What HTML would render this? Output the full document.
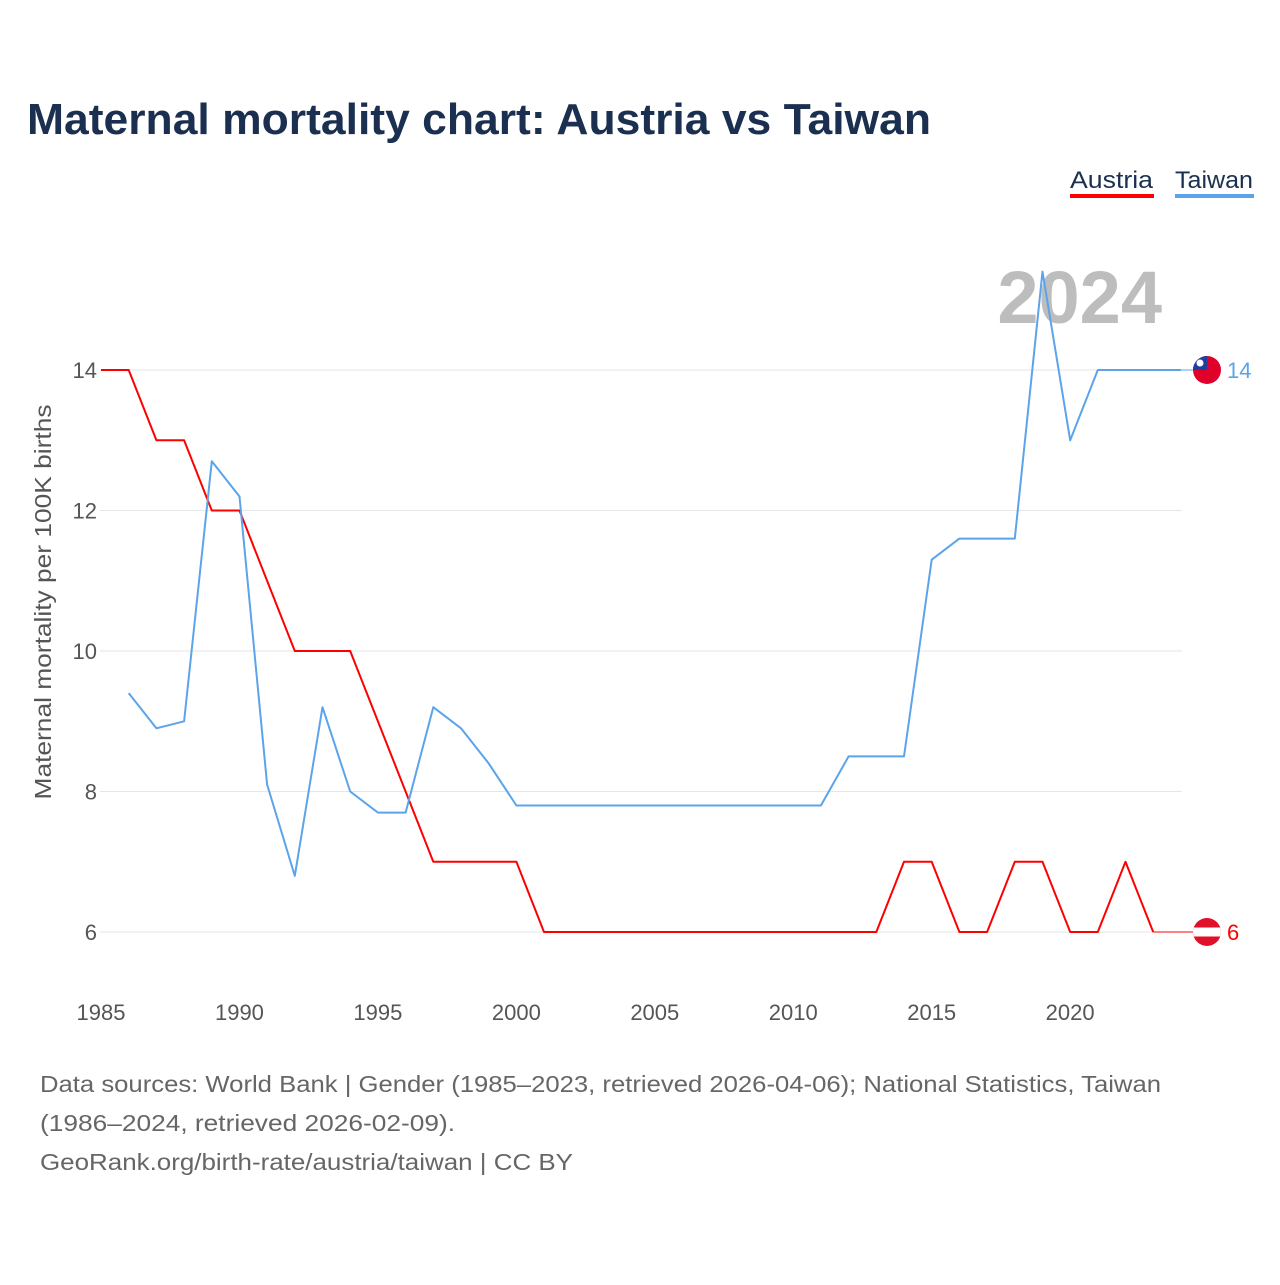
<!DOCTYPE html>
<html><head><meta charset="utf-8">
<style>
body{margin:0;background:#fff;font-family:"Liberation Sans",sans-serif;}
svg text{font-family:"Liberation Sans",sans-serif;}
</style></head>
<body>
<svg id="chart" width="1280" height="1280" xmlns="http://www.w3.org/2000/svg">
<text x="27" y="134" font-size="44" font-weight="bold" fill="#1b3050" textLength="904" lengthAdjust="spacingAndGlyphs">Maternal mortality chart: Austria vs Taiwan</text>
<g><text x="1070" y="188" font-size="24" fill="#1b3050" textLength="83" lengthAdjust="spacingAndGlyphs">Austria</text><rect x="1070" y="194" width="84" height="4" fill="#ff0000"/></g>
<g><text x="1175" y="188" font-size="24" fill="#1b3050" textLength="78" lengthAdjust="spacingAndGlyphs">Taiwan</text><rect x="1175" y="194" width="79" height="4" fill="#5ba4ea"/></g>
<text x="1162" y="323" font-size="74" font-weight="bold" fill="#bdbdbd" text-anchor="end">2024</text>
<text transform="translate(51,602) rotate(-90)" font-size="23" fill="#555" text-anchor="middle" textLength="395" lengthAdjust="spacingAndGlyphs">Maternal mortality per 100K births</text>
<g id="grid"></g><g id="xticks"></g><g id="lines"></g>
<g font-size="23" fill="#666">
<text x="40" y="1092" textLength="1121" lengthAdjust="spacingAndGlyphs">Data sources: World Bank | Gender (1985–2023, retrieved 2026-04-06); National Statistics, Taiwan</text>
<text x="40" y="1131" textLength="415" lengthAdjust="spacingAndGlyphs">(1986–2024, retrieved 2026-02-09).</text>
<text x="40" y="1170" textLength="533" lengthAdjust="spacingAndGlyphs">GeoRank.org/birth-rate/austria/taiwan | CC BY</text>
</g>
</svg>
<script>
const austriaYears = [1985,1986,1987,1988,1989,1990,1991,1992,1993,1994,1995,1996,1997,1998,1999,2000,2001,2002,2003,2004,2005,2006,2007,2008,2009,2010,2011,2012,2013,2014,2015,2016,2017,2018,2019,2020,2021,2022,2023];
const austriaValues = [14,14,13,13,12,12,11,10,10,10,9,8,7,7,7,7,6,6,6,6,6,6,6,6,6,6,6,6,6,7,7,6,6,7,7,6,6,7,6];
const taiwanYears = [1986,1987,1988,1989,1990,1991,1992,1993,1994,1995,1996,1997,1998,1999,2000,2001,2002,2003,2004,2005,2006,2007,2008,2009,2010,2011,2012,2013,2014,2015,2016,2017,2018,2019,2020,2021,2022,2023,2024];
const taiwanValues = [9.4,8.9,9.0,12.7,12.2,8.1,6.8,9.2,8.0,7.7,7.7,9.2,8.9,8.4,7.8,7.8,7.8,7.8,7.8,7.8,7.8,7.8,7.8,7.8,7.8,7.8,8.5,8.5,8.5,11.3,11.6,11.6,11.6,15.4,13.0,14,14,14,14];
const yTicks = [6,8,10,12,14];
const xTicks = [1985,1990,1995,2000,2005,2010,2015,2020];

const NS="http://www.w3.org/2000/svg";
const x = yr => 101 + (yr-1985)*27.69;
const y = v => 932 - (v-6)*70.25;
function mk(tag, attrs, parent, txt){const e=document.createElementNS(NS,tag);for(const k in attrs)e.setAttribute(k,attrs[k]);if(txt!==undefined)e.textContent=txt;document.getElementById(parent).appendChild(e);return e;}

yTicks.forEach(t=>{
  const l=mk('line',{x1:100,x2:1182,y1:y(t),y2:y(t),stroke:'#e6e6e6','stroke-width':1},'grid');
  
  
  const tx=mk('text',{x:97,y:y(t)+8,'font-size':22,fill:'#555','text-anchor':'end'},'grid',String(t));
  
  
});
xTicks.forEach(t=>{
  const tx=mk('text',{x:x(t),y:1020,'font-size':22,fill:'#555','text-anchor':'middle'},'xticks',String(t));
  
  
});

function series(years, vals, color, name){
  const pts=years.map((yr,i)=>x(yr).toFixed(1)+','+y(vals[i]).toFixed(1)).join(' ');
  const p=mk('polyline',{points:pts,fill:'none',stroke:color,'stroke-width':2,'stroke-linejoin':'round'},'lines');
  
  
  const last=vals[vals.length-1];
  const c=mk('line',{x1:x(years[years.length-1]),x2:1207,y1:y(last),y2:y(last),stroke:color,'stroke-width':1},'lines');
  
  
  return last;
}
const aLast=series(austriaYears,austriaValues,'#ff0000','austria');
const tLast=series(taiwanYears,taiwanValues,'#5ba4ea','taiwan');

const g1=mk('g',{},'lines');


g1.innerHTML=`<clipPath id="ct"><circle cx="1207" cy="${y(tLast)}" r="14"/></clipPath><g clip-path="url(#ct)"><rect x="1193" y="${y(tLast)-14}" width="28" height="28" fill="#e0002a"/><rect x="1193" y="${y(tLast)-14}" width="14" height="14" fill="#1f3fa0"/><circle cx="1200" cy="${y(tLast)-7}" r="3.5" fill="#fff"/></g>`;
const t1=mk('text',{x:1227,y:y(tLast)+8,'font-size':22,fill:'#5ba4ea'},'lines',String(tLast));



const g2=mk('g',{},'lines');


g2.innerHTML=`<clipPath id="ca"><circle cx="1207" cy="${y(aLast)}" r="14"/></clipPath><g clip-path="url(#ca)"><rect x="1193" y="${y(aLast)-14}" width="28" height="28" fill="#e0102a"/><rect x="1193" y="${y(aLast)-4.5}" width="28" height="9" fill="#fff"/></g>`;
const t2=mk('text',{x:1227,y:y(aLast)+8,'font-size':22,fill:'#ff0000'},'lines',String(aLast));


</script>
</body></html>
